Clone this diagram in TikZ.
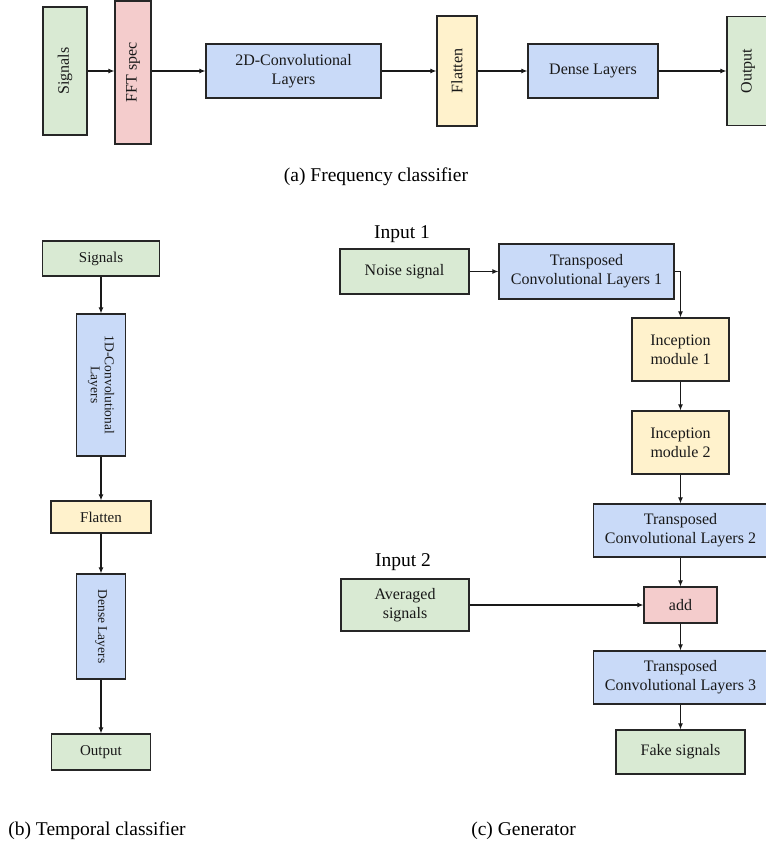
\documentclass[tikz,border=0pt]{standalone}
\usepackage{fontspec}
\setmainfont{Liberation Serif}
\usetikzlibrary{arrows.meta}
\definecolor{cgreen}{HTML}{D9EAD3}
\definecolor{cpink}{HTML}{F4CCCC}
\definecolor{cblue}{HTML}{C9DAF8}
\definecolor{cyellow}{HTML}{FFF2CC}
\definecolor{cline}{HTML}{262626}
\begin{document}
\begin{tikzpicture}[x=1pt,y=-1pt,
  box/.style={draw=cline, line width=1.2pt, inner sep=0pt, align=center, text=black!90},
  big/.style={font=\fontsize{16}{19}\selectfont},
  small/.style={font=\fontsize{15}{18}\selectfont},
  tiny/.style={font=\fontsize{13.5}{16}\selectfont},
  captext/.style={font=\fontsize{19.5}{23}\selectfont, inner sep=0pt},
  arr/.style={draw=black!90, line width=1.1pt, -{Latex[length=6pt,width=5pt]}},
  green/.style={fill=cgreen}, pink/.style={fill=cpink}, blue/.style={fill=cblue}, yellow/.style={fill=cyellow}]
\useasboundingbox (0,0) rectangle (766,847);
% (a)
\node[box,big,green,minimum width=44pt,minimum height=128pt] (asig) at (65,71) {\rotatebox{90}{Signals}};
\node[box,big,pink,minimum width=36pt,minimum height=143pt] (afft) at (133,72.5) {\rotatebox{90}{FFT spec}};
\node[box,big,blue,minimum width=175pt,minimum height=54pt] (aconv) at (293.5,71) {2D-Convolutional\\Layers};
\node[box,big,yellow,minimum width=40pt,minimum height=110pt] (aflat) at (457,71) {\rotatebox{90}{Flatten}};
\node[box,big,blue,minimum width=130pt,minimum height=54pt] (adense) at (593,71) {Dense Layers};
\node[box,big,green,minimum width=42pt,minimum height=109pt] (aout) at (748,71) {\rotatebox{90}{Output}};
\draw[arr] (asig.east) -- (asig.east -| afft.west);
\draw[arr] (afft.east |- aconv.west) -- (aconv.west);
\draw[arr] (aconv.east) -- (aflat.west |- aconv.east);
\draw[arr] (aflat.east |- adense.west) -- (adense.west);
\draw[arr] (adense.east) -- (aout.west |- adense.east);
\node[captext] (capa) at (376,177) {(a) Frequency classifier};
% (b)
\node[box,small,green,minimum width=117pt,minimum height=35pt] (bsig) at (101,258.5) {Signals};
\node[box,tiny,blue,minimum width=49pt,minimum height=142pt] (bconv) at (101,385) {\rotatebox{-90}{\begin{tabular}{@{}c@{}}1D-Convolutional\\[-2pt]Layers\end{tabular}}};
\node[box,small,yellow,minimum width=100pt,minimum height=32pt] (bflat) at (101,517) {Flatten};
\node[box,tiny,blue,minimum width=49pt,minimum height=105pt] (bdense) at (101,626.5) {\rotatebox{-90}{Dense Layers}};
\node[box,small,green,minimum width=99pt,minimum height=36pt] (bout) at (101,752) {Output};
\draw[arr] (bsig) -- (bconv);
\draw[arr] (bconv) -- (bflat);
\draw[arr] (bflat) -- (bdense);
\draw[arr] (bdense) -- (bout);
\node[captext] (capb) at (97,831) {(b) Temporal classifier};
% (c)
\node[captext] (in1) at (402,234) {Input 1};
\node[box,big,green,minimum width=129pt,minimum height=45pt] (noise) at (404.5,271.5) {Noise signal};
\node[box,big,blue,minimum width=175pt,minimum height=55pt] (tc1) at (586.5,271.5) {Transposed\\Convolutional Layers 1};
\node[box,big,yellow,minimum width=97pt,minimum height=63pt] (inc1) at (680.5,349.5) {Inception\\module 1};
\node[box,big,yellow,minimum width=97pt,minimum height=63pt] (inc2) at (680.5,442.5) {Inception\\module 2};
\node[box,big,blue,minimum width=174pt,minimum height=53pt] (tc2) at (680.5,530.5) {Transposed\\Convolutional Layers 2};
\node[captext] (in2) at (403,562) {Input 2};
\node[box,big,green,minimum width=128pt,minimum height=52pt] (avg) at (405,605) {Averaged\\signals};
\node[box,big,pink,minimum width=73pt,minimum height=36pt] (add) at (680.5,605) {add};
\node[box,big,blue,minimum width=174pt,minimum height=53pt] (tc3) at (680.5,677.5) {Transposed\\Convolutional Layers 3};
\node[box,big,green,minimum width=129pt,minimum height=44pt] (fake) at (680.5,752) {Fake signals};
\draw[arr] (noise) -- (tc1);
\draw[arr] (tc1.east) -| (inc1.north);
\draw[arr] (inc1) -- (inc2);
\draw[arr] (inc2) -- (tc2);
\draw[arr] (tc2) -- (add);
\draw[arr] (avg) -- (add);
\draw[arr] (add) -- (tc3);
\draw[arr] (tc3) -- (fake);
\node[captext] (capc) at (523.5,831) {(c) Generator};
\end{tikzpicture}
\end{document}
